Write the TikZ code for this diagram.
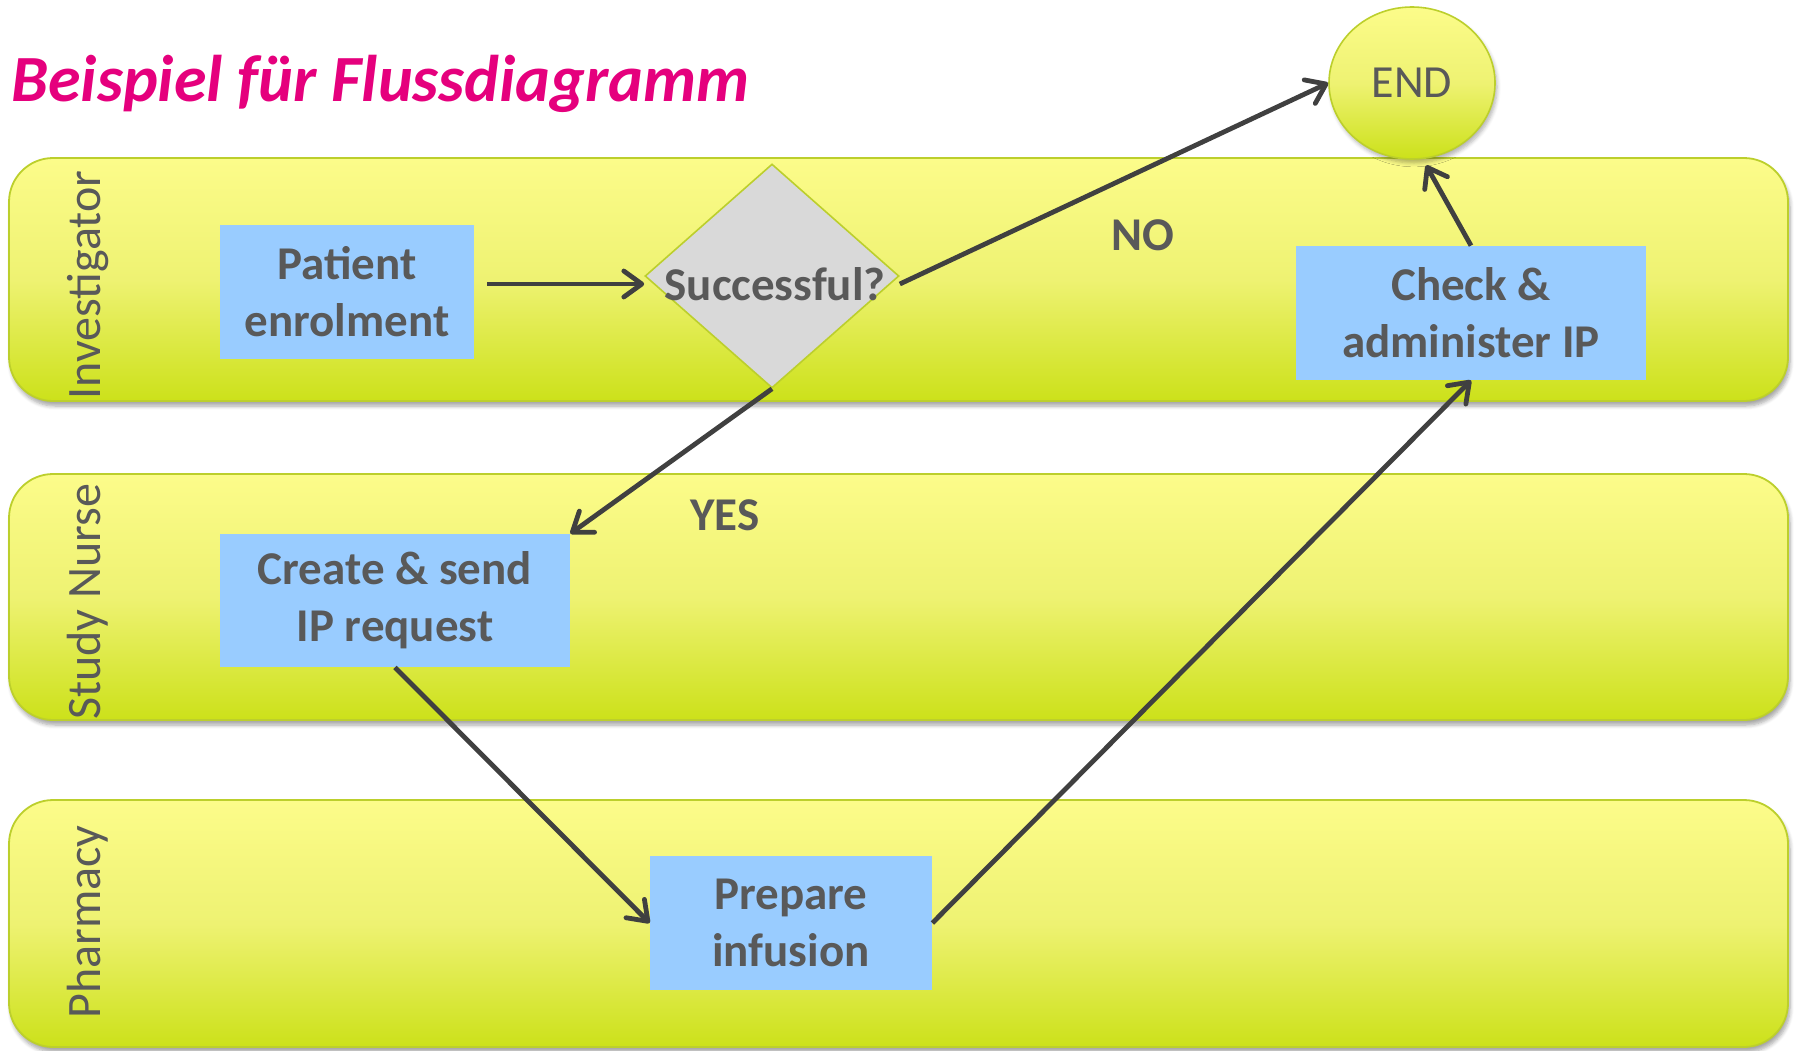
\documentclass[tikz,border=0pt]{standalone}
\usepackage{fontspec}
\setmainfont{Carlito}
\usetikzlibrary{arrows.meta,shapes.geometric,shadows.blur,calc}
\definecolor{titlemag}{HTML}{E5007D}
\definecolor{txtgray}{HTML}{595959}
\definecolor{arrgray}{HTML}{404040}
\definecolor{boxblue}{HTML}{99CCFF}
\definecolor{diagray}{HTML}{D9D9D9}
\definecolor{laneborder}{HTML}{BCCF2C}
\definecolor{lanetop}{HTML}{FCFC8A}
\definecolor{lanemid}{HTML}{EEF272}
\definecolor{lanebot}{HTML}{CCE11A}
\begin{document}
\begin{tikzpicture}[x=0.5pt,y=-0.5pt,
  lane/.style={draw=laneborder, line width=0.9pt, rounded corners=22pt,
    top color=lanetop, bottom color=lanebot, middle color=lanemid,
    blur shadow={shadow xshift=1pt, shadow yshift=-2.5pt, shadow blur steps=6, shadow opacity=35},
    inner sep=0pt, minimum width=889.5pt},
  lanelabel/.style={rotate=90, text=txtgray, font=\fontsize{24}{24}\selectfont, inner sep=0pt},
  stepbox/.style={fill=boxblue, text=txtgray, font=\fontsize{23.5}{28.5}\selectfont\bfseries,
    align=center, inner sep=0pt},
  decision/.style={diamond, fill=diagray, draw=laneborder, line width=0.8pt, inner sep=0pt,
    minimum width=127pt, minimum height=112pt},
  endnode/.style={ellipse, draw=laneborder, line width=0.8pt, top color=lanetop, bottom color=lanebot,
    middle color=lanemid, inner sep=0pt, minimum width=83pt, minimum height=76pt, text=txtgray,
    font=\fontsize{23}{23}\selectfont,
    blur shadow={shadow xshift=1pt, shadow yshift=-2pt, shadow blur steps=5, shadow opacity=30}},
  tag/.style={text=txtgray, font=\fontsize{23.5}{23.5}\selectfont\bfseries, inner sep=0pt},
  conn/.style={draw=arrgray, line width=2.4pt,
    -{Straight Barb[length=9pt, width=13pt, round]}}
]
\useasboundingbox (0,0) rectangle (1797,1050);

% lanes
\node[lane, minimum height=121.5pt] (lane1) at (898.5,279.5) {};
\node[lane, minimum height=123pt] (lane2) at (898.5,597) {};
\node[lane, minimum height=123.5pt] (lane3) at (898.5,923.5) {};

\node[lanelabel] (lab1) at (88,285) {Investigator};
\node[lanelabel] (lab2) at (88,602) {Study Nurse};
\node[lanelabel] (lab3) at (88,922) {Pharmacy};

% title
\node[anchor=base west, inner sep=0pt, text=titlemag,
  font=\fontsize{33}{33}\selectfont\bfseries\itshape] (title) at (11,101) {Beispiel für Flussdiagramm};

% nodes
\node[stepbox, minimum width=127pt, minimum height=67pt] (patient) at (347,292) {Patient\\enrolment};
\node[decision] (succ) at (772,276) {};
\node[tag] (succtxt) at (775,284) {Successful?};
\node[stepbox, minimum width=175pt, minimum height=67pt] (check) at (1471,313) {Check \&\\administer IP};
\node[stepbox, minimum width=175pt, minimum height=66.5pt] (create) at (395,600.5) {Create \& send\\IP request};
\node[stepbox, minimum width=141pt, minimum height=67pt] (prep) at (791,923) {Prepare\\infusion};
\node[endnode] (end) at (1412,83) {END};

\node[tag] (no) at (1143,235) {NO};
\node[tag] (yes) at (725,515) {YES};

% connectors
\draw[conn, shorten <=6.5pt] (patient.east |- succtxt) -- (succ.west |- succtxt);
\draw[conn] (succ.east |- succtxt) -- (end.west);
\draw[conn] (succ.south) -- (create.north east);
\draw[conn] (create.south) -- (prep.west);
\draw[conn] (prep.east) -- (check.south);
\draw[conn, shorten >=3.5pt] (check.north) -- (end.-82);
\end{tikzpicture}
\end{document}
